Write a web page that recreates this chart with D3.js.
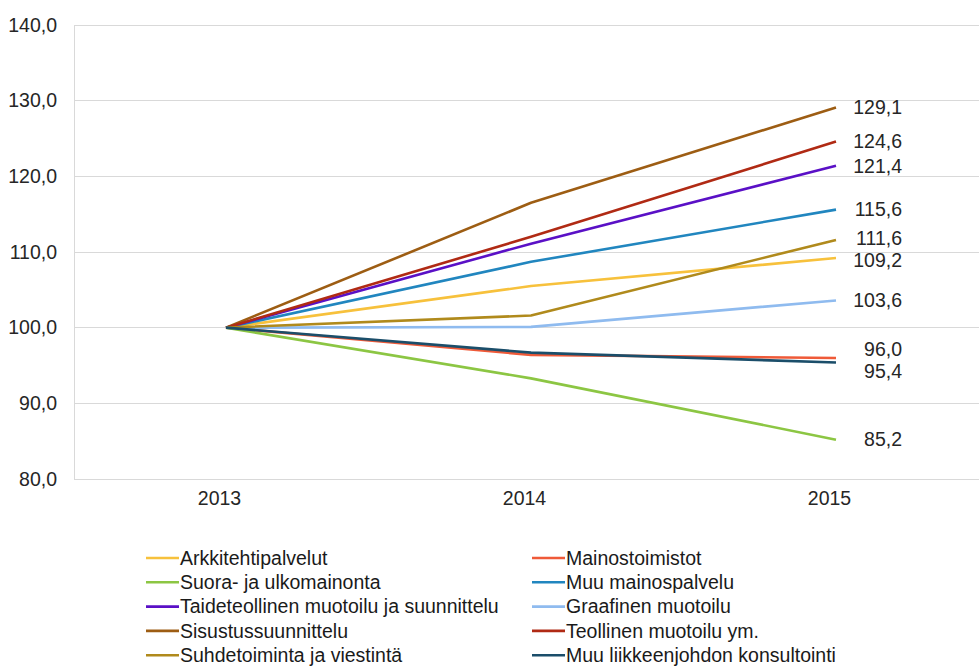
<!DOCTYPE html>
<html><head><meta charset="utf-8">
<script src="https://cdn.jsdelivr.net/npm/d3@7"></script>
<style>html,body{margin:0;padding:0;background:#fff;}svg{display:block;font-family:"Liberation Sans",Arial,sans-serif;}</style>
</head><body>
<svg id="c" width="979" height="672"></svg>
<script>
const years = ["2013", "2014", "2015"];
const seriesNames = ["Arkkitehtipalvelut","Mainostoimistot","Suora- ja ulkomainonta","Muu mainospalvelu","Taideteollinen muotoilu ja suunnittelu","Graafinen muotoilu","Sisustussuunnittelu","Teollinen muotoilu ym.","Suhdetoiminta ja viestintä","Muu liikkeenjohdon konsultointi"];
const seriesColors = ["#f7c13c","#ef5a38","#8cc643","#2186bf","#5a10c6","#8fbbef","#9d5d13","#b02a14","#b08a1c","#1b4e6a"];
const v2013 = [100,100,100,100,100,100,100,100,100,100];
const v2014 = [105.5,96.4,93.3,108.7,111.1,100.1,116.5,112.0,101.6,96.7];
const v2015 = [109.2,96.0,85.2,115.6,121.4,103.6,129.1,124.6,111.6,95.4];
const yTicks = [80,90,100,110,120,130,140];

const svg = d3.select("#c");
const L = 74, T = 25, B = 479;
const FS = 19.5;
const x = d3.scalePoint().domain(years).range([226, 836]);
const y = d3.scaleLinear().domain([80,140]).range([B, T]);
const fmt = v => d3.format(".1f")(v).replace(".", ",");
const grid = "#d9d9d9";

// gridlines
svg.append("g").selectAll("line").data(yTicks).join("line")
  .attr("x1", L).attr("x2", 979).attr("y1", d => y(d)).attr("y2", d => y(d))
  .attr("stroke", grid).attr("stroke-width", 1).attr("shape-rendering","crispEdges");
svg.append("line").attr("x1", L).attr("x2", L).attr("y1", T).attr("y2", B)
  .attr("stroke", grid).attr("shape-rendering","crispEdges");

// y axis labels
const yAxis = d3.axisLeft(y).tickValues(yTicks).tickFormat(fmt).tickSize(0).tickPadding(0);
const ya = svg.append("g").attr("transform", `translate(57,0)`).call(yAxis);
ya.select(".domain").remove();
ya.selectAll("text").attr("font-size", FS).attr("fill", "#262626").attr("font-family","Liberation Sans, Arial, sans-serif");

// x axis labels
const xAxis = d3.axisBottom(x).tickSize(0).tickPadding(0);
const xa = svg.append("g").attr("transform", `translate(0,${B+12})`).call(xAxis);
xa.select(".domain").remove();
xa.selectAll("text").attr("font-size", FS).attr("fill", "#262626").attr("font-family","Liberation Sans, Arial, sans-serif").attr("dx", -7);

// lines
const series = seriesNames.map((n, i) => ({name: n, color: seriesColors[i], values: [v2013[i], v2014[i], v2015[i]]}));
const line = d3.line().x((d, j) => x(years[j])).y(d => y(d));
svg.append("g").selectAll("path").data(series).join("path")
  .attr("d", d => line(d.values)).attr("fill", "none")
  .attr("stroke", d => d.color).attr("stroke-width", 2.6).attr("stroke-linejoin","round");

// end labels with simple collision avoidance
const labs = series.map(s => ({v: s.values[2], y0: y(s.values[2])})).sort((a,b) => a.y0 - b.y0);
labs.forEach(l => l.y = l.y0);
const gap = 22;
for (let it = 0; it < 50; it++) {
  for (let k = 1; k < labs.length; k++) {
    const d = labs[k].y - labs[k-1].y;
    if (d < gap) { const s = (gap - d) / 2; labs[k].y += s; labs[k-1].y -= s; }
  }
}
svg.append("g").selectAll("text").data(labs).join("text")
  .attr("x", 902).attr("y", d => d.y).attr("dy", "0.35em").attr("text-anchor", "end")
  .attr("font-size", FS).attr("fill", "#262626").text(d => fmt(d.v));

// legend
const lg = svg.append("g");
series.forEach((s, i) => {
  const col = i % 2, row = Math.floor(i / 2);
  const lx = col === 0 ? 146 : 532;
  const ly = 558 + row * 24.3;
  lg.append("line").attr("x1", lx).attr("x2", lx + 33).attr("y1", ly).attr("y2", ly)
    .attr("stroke", s.color).attr("stroke-width", 2.6);
  lg.append("text").attr("x", lx + 34).attr("y", ly).attr("dy", "0.35em")
    .attr("font-size", FS).attr("fill", "#1a1a1a").text(s.name);
});
</script>
</body></html>
